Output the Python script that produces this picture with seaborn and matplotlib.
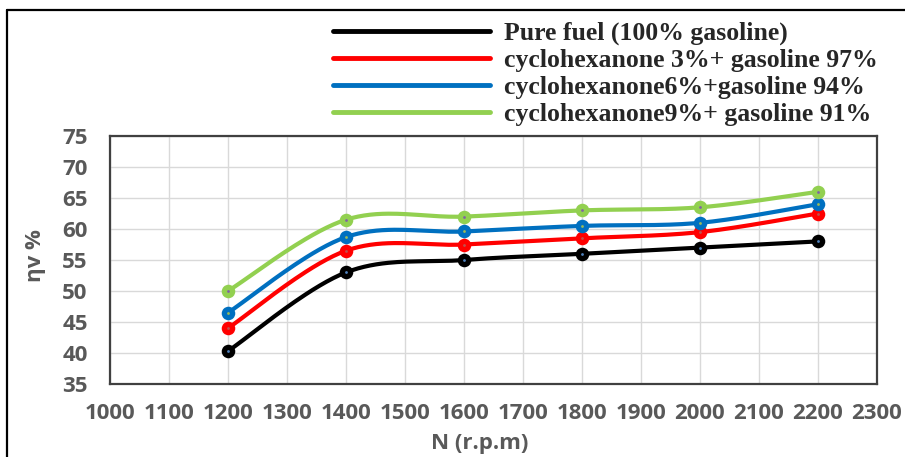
import numpy as np
import pandas as pd
import matplotlib.pyplot as plt
from matplotlib.lines import Line2D
import seaborn as sns

# engine speed (r.p.m) and volumetric efficiency (%)
speed = [1200, 1400, 1600, 1800, 2000, 2200]
pure = [40.3, 53.0, 55.0, 56.0, 57.0, 58.0]
cyc3 = [44.0, 56.5, 57.5, 58.5, 59.5, 62.5]
cyc6 = [46.5, 58.7, 59.6, 60.5, 61.0, 64.0]
cyc9 = [50.0, 61.5, 62.0, 63.0, 63.5, 66.0]

labels = ["Pure fuel (100% gasoline)",
          "cyclohexanone 3%+ gasoline 97%",
          "cyclohexanone6%+gasoline 94%",
          "cyclohexanone9%+ gasoline 91%"]
colors = ["#000000", "#ff0000", "#0070c0", "#92d050"]
dot_colors = ["#4f81bd", "#c0504d", "#9bbb59", "#8064a2"]

x_ticks = list(range(1000, 2301, 100))
y_ticks = list(range(35, 76, 5))


def smooth(xs, ys, sx, sy, n=40):
    # excel-like smoothed line: catmull-rom bezier in screen-ish space
    p = np.column_stack([np.array(xs) * sx, np.array(ys) * sy])
    out = []
    for i in range(len(p) - 1):
        p0 = p[i - 1] if i > 0 else p[i]
        p3 = p[i + 2] if i + 2 < len(p) else p[i + 1]
        p1, p2 = p[i], p[i + 1]
        c1 = p1 + (p2 - p0) / 6
        c2 = p2 - (p3 - p1) / 6
        t = np.linspace(0, 1, n)[:, None]
        seg = ((1 - t) ** 3 * p1 + 3 * (1 - t) ** 2 * t * c1
               + 3 * (1 - t) * t ** 2 * c2 + t ** 3 * p2)
        out.append(seg if i == 0 else seg[1:])
    out = np.vstack(out)
    return out[:, 0] / sx, out[:, 1] / sy


sns.set_style("white")
plt.rcParams["font.family"] = ["Open Sans", "DejaVu Sans"]

fig = plt.figure(figsize=(9.05, 4.57), dpi=100)
ax = fig.add_axes([0.1215, 0.1597, 0.8475, 0.5427])

# pixels per unit, for smoothing in display proportions
sx, sy = 767 / 1300, 248 / 40

for series, lab, col, dcol in zip([pure, cyc3, cyc6, cyc9], labels, colors, dot_colors):
    xs, ys = smooth(speed, series, sx, sy)
    df = pd.DataFrame({"N": xs, "eta": ys})
    sns.lineplot(data=df, x="N", y="eta", sort=False, color=col, lw=3.0, ax=ax,
                 zorder=3)
    pts = pd.DataFrame({"N": speed, "eta": series})
    sns.scatterplot(data=pts, x="N", y="eta", color=col, s=95, edgecolor=col,
                    linewidth=0, ax=ax, zorder=4)
    sns.scatterplot(data=pts, x="N", y="eta", color=dcol, s=4, linewidth=0,
                    ax=ax, zorder=5)

ax.set_xlim(1000, 2300)
ax.set_ylim(35, 75)
ax.set_xticks(x_ticks)
ax.set_yticks(y_ticks)
ax.grid(True, color="#d9d9d9", lw=1.0)
ax.set_axisbelow(True)
for s in ax.spines.values():
    s.set_visible(True)
    s.set_color("#404040")
    s.set_linewidth(1.6)

ax.tick_params(axis="both", length=0, labelsize=16, labelcolor="#595959")
ax.tick_params(axis="x", pad=14)
ax.tick_params(axis="y", pad=16)
for t in ax.get_xticklabels() + ax.get_yticklabels():
    t.set_fontweight("bold")

ax.set_xlabel("N (r.p.m)", fontsize=16, fontweight="bold", color="#595959")
ax.xaxis.set_label_coords(0.482, -0.238)
ax.xaxis.label.set_va("center")
ax.set_ylabel("ηv %", fontsize=16, fontweight="bold", color="#595959")
ax.yaxis.set_label_coords(-0.097, 0.516)
ax.yaxis.label.set_va("center")

handles = [Line2D([], [], color=c, lw=3.5) for c in colors]
fig.legend(handles, labels, loc="upper left", bbox_to_anchor=(0.368, 0.952),
           frameon=False, borderpad=0, borderaxespad=0, handlelength=6.1,
           handletextpad=0.55, labelspacing=0.15,
           prop={"family": "Liberation Serif", "weight": "bold", "size": 18.5})

# outer frame of the chart
fig.add_artist(Line2D([0.0077, 1.0], [0.978, 0.978], color="black", lw=1.6,
                      transform=fig.transFigure))
fig.add_artist(Line2D([0.0077, 0.0077], [0.0, 0.978], color="black", lw=1.6,
                      transform=fig.transFigure))

fig.savefig("out.png", dpi=100)
